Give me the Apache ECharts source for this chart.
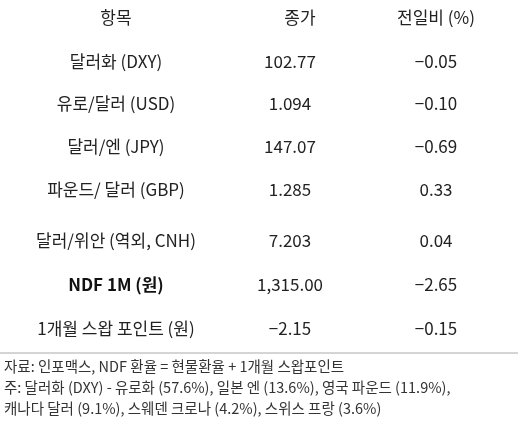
<!DOCTYPE html>
<html><head><meta charset="utf-8">
<script src="https://cdn.jsdelivr.net/npm/echarts@6/dist/echarts.min.js"></script>
<style>html,body{margin:0;padding:0;background:#fff}#main{width:518px;height:423px}</style>
</head><body><div id="main"></div>
<script>
const headers = ['항목', '종가', '전일비 (%)'];
const items = ['달러화 (DXY)', '유로/달러 (USD)', '달러/엔 (JPY)', '파운드/ 달러 (GBP)', '달러/위안 (역외, CNH)', 'NDF 1M (원)', '1개월 스왑 포인트 (원)'];
const prices = ['102.77', '1.094', '147.07', '1.285', '7.203', '1,315.00', '−2.15'];
const changes = ['−0.05', '−0.10', '−0.69', '0.33', '0.04', '−2.65', '−0.15'];
const notes = [
  '자료: 인포맥스, NDF 환율 = 현물환율 + 1개월 스왑포인트',
  '주: 달러화 (DXY) - 유로화 (57.6%), 일본 엔 (13.6%), 영국 파운드 (11.9%),',
  '캐나다 달러 (9.1%), 스웨덴 크로나 (4.2%), 스위스 프랑 (3.6%)'
];

const font = '"Noto Sans CJK KR", "Noto Sans", sans-serif';
const colX = [116, 300, 436];
const rowY = [18, 62, 104, 147, 190, 241, 285, 329];
const els = [];
function txt(x, y, s, opt) {
  els.push({type: 'text', x: x, y: y, style: Object.assign({
    text: s, fill: '#222', font: '17px ' + font, align: 'center', verticalAlign: 'middle'
  }, opt || {})});
}
headers.forEach((h, i) => txt(colX[i], rowY[0], h));
items.forEach((it, r) => {
  const bold = r === 5 ? {font: 'bold 17px ' + font, fill: '#111'} : {};
  txt(colX[0], rowY[r + 1], it, bold);
  txt(colX[1] - 10, rowY[r + 1], prices[r]);
  txt(colX[2], rowY[r + 1], changes[r]);
});
els.push({type: 'line', shape: {x1: 0, y1: 353, x2: 518, y2: 353}, style: {stroke: '#aaa', lineWidth: 1}});
notes.forEach((n, i) => txt(4, 366 + i * 21, n, {align: 'left', font: '14.5px ' + font, fill: '#333'}));

const chart = echarts.init(document.getElementById('main'));
chart.setOption({animation: false, graphic: {elements: els}});
</script></body></html>
